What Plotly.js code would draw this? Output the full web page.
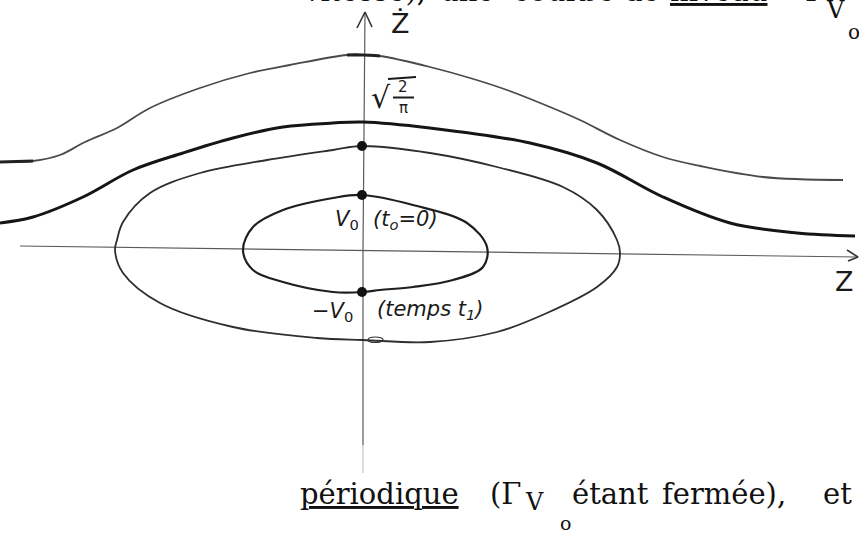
<!DOCTYPE html>
<html>
<head>
<meta charset="utf-8">
<script src="https://cdn.plot.ly/plotly-3.0.1.min.js"></script>
<style>
  html, body { margin: 0; padding: 0; background: #fff; }
  #plot { width: 859px; height: 534px; }
</style>
</head>
<body>
<div id="plot"></div>
<script>
// Phase plane (Z, Ż): level curves of the energy, hand-traced.
// Units: horizontal = Z, vertical = Ż (origin where the axes cross).

// Open trajectory above the separatrix
const upperZ    = [-3.62, -3.29, -3.02, -2.77, -2.45, -2.12, -1.62, -1.12, -0.72, -0.15, 0.01, 0.18, 0.68, 1.08, 1.45, 1.88, 2.18, 2.58, 3.01, 3.38, 4.01, 4.81];
const upperZdot = [ 0.88,  0.89,  0.95,  1.08,  1.22,  1.42,  1.62,  1.77,  1.85,  1.95, 1.95, 1.94, 1.83, 1.72, 1.60, 1.43, 1.30, 1.10, 0.93, 0.84, 0.73, 0.70];

// Separatrix, crossing the Ż axis at sqrt(2/pi)
const sepZ    = [-3.62, -3.29, -2.79, -2.29, -1.79, -1.29, -0.79, -0.29, 0.01, 0.68, 1.68, 2.35, 3.01, 3.68, 4.35, 4.93];
const sepZdot = [ 0.27,  0.33,  0.53,  0.80,  0.97,  1.12,  1.23,  1.27, 1.28, 1.22, 1.07, 0.87, 0.53, 0.27, 0.17, 0.14];

// Large closed orbit
const outerZ    = [0.00, 0.68, 1.35, 2.01, 2.35, 2.55, 2.58, 2.55, 2.35, 1.85, 1.35, 0.68, 0.01, -0.45, -1.29, -2.02, -2.39, -2.47, -2.45, -2.39, -2.12, -1.62, -0.95, -0.29, 0.00];
const outerZdot = [1.04, 0.97, 0.83, 0.63, 0.40, 0.10, -0.03, -0.17, -0.37, -0.63, -0.82, -0.92, -0.90, -0.88, -0.77, -0.53, -0.23, 0.00, 0.10, 0.28, 0.57, 0.77, 0.90, 1.00, 1.04];

// Small closed orbit Γ_V0 (starts at V0 when t0 = 0)
const innerZ    = [0.00, 0.51, 1.05, 1.25, 1.21, 0.91, 0.51, 0.18, 0.01, -0.29, -0.79, -1.09, -1.19, -1.09, -0.79, -0.29, 0.00];
const innerZdot = [0.55, 0.45, 0.27, 0.03, -0.17, -0.30, -0.37, -0.40, -0.42, -0.42, -0.32, -0.20, 0.00, 0.23, 0.40, 0.52, 0.55];

// Marked points on the Ż axis
const markZ    = [0.00, 0.00, 0.00];
const markZdot = [1.04, 0.55, -0.42];

// Hand-drawn axes and their arrowheads
const axisZ_Z       = [-3.42, 4.96];
const axisZ_Zdot    = [ 0.04, -0.07];
const headZ_Z       = [4.85, 4.96, 4.86];
const headZ_Zdot    = [0.00, -0.07, -0.11];
const axisZd_Z      = [0.01, 0.01, 0.03];
const axisZd_Zdot   = [-1.95, 0.00, 2.38];
const tailZd_Z      = [0.01, 0.01];
const tailZd_Zdot   = [-2.23, -1.95];
const headZd_Z      = [-0.05, 0.03, 0.10];
const headZd_Zdot   = [2.22, 2.38, 2.23];

const ink = '#2e2e2e';
const pen = {shape: 'spline', smoothing: 1};

function curve(x, y, color, width, extra) {
  return {
    x: x, y: y, type: 'scatter', mode: 'lines', hoverinfo: 'skip',
    line: Object.assign({color: color, width: width}, extra || {})
  };
}

const traces = [
  curve(axisZ_Z, axisZ_Zdot, '#5a5a5a', 1.2),
  curve(headZ_Z, headZ_Zdot, '#333', 1.6),
  curve(axisZd_Z, axisZd_Zdot, '#5a5a5a', 1.2),
  curve(tailZd_Z, tailZd_Zdot, '#bdbdbd', 1.0),
  curve(headZd_Z, headZd_Zdot, '#333', 1.6),
  curve(upperZ, upperZdot, '#4a4a4a', 1.8, pen),
  curve(upperZ.slice(0, 2), upperZdot.slice(0, 2), '#222', 3.2, pen),
  curve(upperZ.slice(9, 12), upperZdot.slice(9, 12), '#222', 3.2, pen),
  curve(sepZ, sepZdot, '#151515', 3.0, pen),
  curve(outerZ, outerZdot, ink, 1.8, pen),
  curve(innerZ, innerZdot, '#1f1f1f', 2.2, pen),
  {
    x: markZ, y: markZdot, type: 'scatter', mode: 'markers', hoverinfo: 'skip',
    marker: {color: '#111', size: 10}
  }
];

const hand = {family: 'DejaVu Sans', color: '#1a1a1a'};
const serif = {family: 'DejaVu Serif', color: '#111', size: 29};

function note(text, x, y, font, opts) {
  return Object.assign({
    text: text, x: x, y: y, xref: 'x', yref: 'y', showarrow: false,
    font: font, xanchor: 'center', yanchor: 'middle'
  }, opts || {});
}

// words of the running text above the figure (only their lower edge is on the page)
function topWord(text, x, size) {
  return note(text, x, 1.016, Object.assign({}, serif, {size: size || 29}),
              {xanchor: 'left', yref: 'paper'});
}

const annotations = [
  note('Ż', 0.38, 2.27, Object.assign({size: 27}, hand)),
  note('Z', 4.82, -0.31, Object.assign({size: 27}, hand)),
  // sqrt(2/pi)
  note('√', 0.19, 1.53, Object.assign({size: 30}, hand)),
  note('2', 0.41, 1.63, Object.assign({size: 15}, hand)),
  note('π', 0.41, 1.42, Object.assign({size: 15}, hand)),
  note('<i>V</i><sub>0</sub>', -0.15, 0.30, Object.assign({size: 21}, hand)),
  note('<i>(t<sub>o</sub>=0)</i>', 0.43, 0.30, Object.assign({size: 21}, hand)),
  note('<i>−V</i><sub>0</sub>', -0.30, -0.62, Object.assign({size: 21}, hand)),
  note('<i>(temps t<sub>1</sub>)</i>', 0.68, -0.60, Object.assign({size: 21}, hand)),
  // running text below the figure
  note('<u>périodique</u>', -0.64, -2.44, serif, {xanchor: 'left'}),
  note('(Γ', 1.26, -2.44, serif, {xanchor: 'left'}),
  note('V', 1.61, -2.52, Object.assign({}, serif, {size: 24}), {xanchor: 'left'}),
  note('o', 1.96, -2.73, Object.assign({}, serif, {size: 19}), {xanchor: 'left'}),
  note('étant', 2.08, -2.44, serif, {xanchor: 'left'}),
  note('fermée),', 2.98, -2.44, serif, {xanchor: 'left'}),
  note('et', 4.59, -2.44, serif, {xanchor: 'left'}),
  // running text above the figure
  topWord('vitesse),', -0.61),
  topWord('une', 0.76),
  topWord('courbe', 1.49),
  topWord('de', 2.60),
  topWord('<u>niveau</u>', 3.06),
  topWord('Γ', 4.41),
  note('V', 4.62, 2.40, Object.assign({}, serif, {size: 24}), {xanchor: 'left'}),
  note('o', 4.84, 2.18, Object.assign({}, serif, {size: 20}), {xanchor: 'left'})
];

const shapes = [
  // radical overbar and fraction bar
  {type: 'line', xref: 'x', yref: 'y', x0: 0.26, x1: 0.54, y0: 1.71, y1: 1.73, line: {color: '#1a1a1a', width: 2}},
  {type: 'line', xref: 'x', yref: 'y', x0: 0.31, x1: 0.52, y0: 1.525, y1: 1.525, line: {color: '#1a1a1a', width: 2}},
  // small open loop where the large orbit crosses the axis below
  {type: 'circle', xref: 'x', yref: 'y', x0: 0.06, x1: 0.21, y0: -0.87, y1: -0.925, line: {color: '#333', width: 1.2}}
];

const layout = {
  width: 859, height: 534,
  margin: {l: 0, r: 0, t: 0, b: 0},
  paper_bgcolor: '#fff', plot_bgcolor: '#fff',
  showlegend: false,
  xaxis: {range: [-3.62, 4.97], visible: false, fixedrange: true},
  yaxis: {range: [-2.84, 2.50], visible: false, fixedrange: true},
  annotations: annotations,
  shapes: shapes
};

Plotly.newPlot('plot', traces, layout, {staticPlot: true, displayModeBar: false});
</script>
</body>
</html>
